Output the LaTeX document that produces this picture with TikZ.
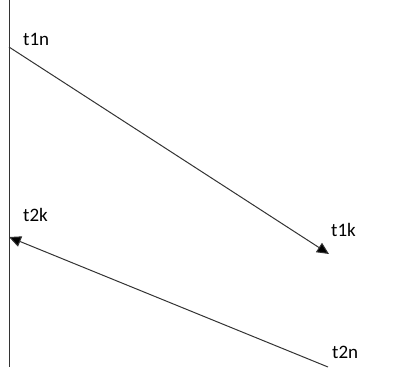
\documentclass[tikz,border=0pt]{standalone}
\usepackage{fontspec}
\setmainfont{Carlito}
\usetikzlibrary{arrows.meta}
\begin{document}
\begin{tikzpicture}[x=1pt,y=-1pt,
  lbl/.style={anchor=west,inner sep=0pt,font=\fontsize{19}{22}\selectfont},
  ln/.style={draw=black!80,line width=1pt},
  arr/.style={ln,-{Triangle[length=12pt,width=11pt,fill=black]}}]
\useasboundingbox (0,0) rectangle (401,367);
\coordinate (top) at (9,0);
\coordinate (bot) at (9,367);
\coordinate (s1) at (9,47);
\coordinate (e1) at (329,254);
\coordinate (s2) at (328,367);
\coordinate (e2) at (9,237);
\draw[ln] (top) -- (bot);
\draw[arr] (s1) -- (e1);
\draw[arr] (s2) -- (e2);
\node[lbl] (t1n) at (23,39) {t1n};
\node[lbl] (t1k) at (331,230) {t1k};
\node[lbl] (t2k) at (23,215) {t2k};
\node[lbl] (t2n) at (332,352) {t2n};
\end{tikzpicture}
\end{document}
